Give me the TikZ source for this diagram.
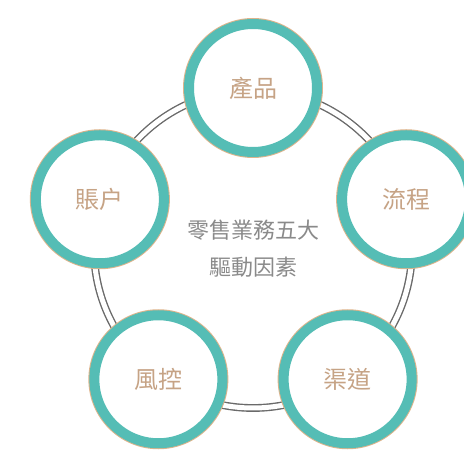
\documentclass[tikz,border=0pt]{standalone}
\usepackage{fontspec}
\newfontfamily\cjk{Noto Sans CJK TC}
\usepackage{tikz}
\usetikzlibrary{calc}

\definecolor{ringteal}{HTML}{55BDB5}
\definecolor{ringtan}{HTML}{DDB48C}
\definecolor{labeltan}{HTML}{C6A385}
\definecolor{loopgray}{HTML}{6A6A6A}
\definecolor{centergray}{HTML}{8A8A8A}

\tikzset{
  driver/.style={circle,fill=white,draw=ringteal,line width=10pt,
    preaction={draw=ringtan,line width=12pt},
    minimum size=128pt,inner sep=0pt,
    font=\cjk\fontsize{24}{24}\selectfont,text=labeltan},
  hub/.style={align=center,text=centergray,
    font=\cjk\fontsize{22}{37}\selectfont}
}

\begin{document}
\begin{tikzpicture}[x=1pt,y=1pt]
\useasboundingbox (0,0) rectangle (464,453);
\coordinate (ctr) at (253,204);
% outer loop
\draw[draw=loopgray,line width=1.4pt,double=white,double distance=5pt] (ctr) circle (159);
% five drivers
\foreach \ang/\nm/\txt in {90/chanpin/產品,18/liucheng/流程,-54/qudao/渠道,-126/fengkong/風控,162/zhanghu/賬户}
  \node [driver] (\nm) at ($(ctr)+(\ang:161)$) {\txt};
\node [hub] (hub) at (ctr) {零售業務五大\\驅動因素};
\end{tikzpicture}
\end{document}
